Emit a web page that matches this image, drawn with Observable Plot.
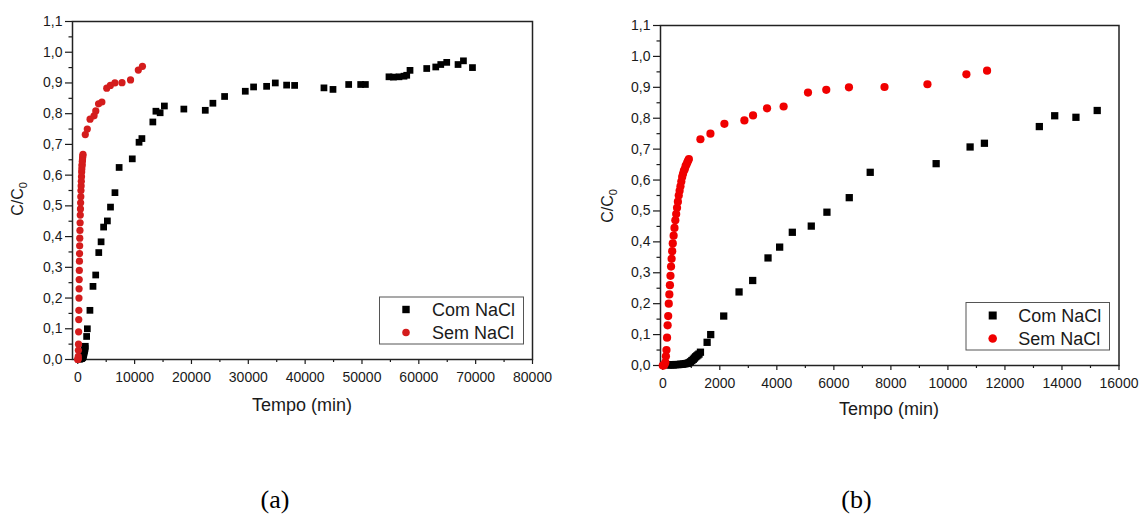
<!DOCTYPE html>
<html>
<head>
<meta charset="utf-8">
<script src="https://cdn.jsdelivr.net/npm/d3@7"></script>
<script src="https://cdn.jsdelivr.net/npm/@observablehq/plot@0.6"></script>
<style>
  html, body { margin: 0; padding: 0; background: #fff; }
  #page { position: relative; width: 1139px; height: 514px; background: #fff; overflow: hidden; }
  #page > div, #page > svg { position: absolute; top: 0; }
</style>
</head>
<body>
<div id="page"></div>
<script>
// ---------------- data ----------------
const series = ["Com NaCl", "Sem NaCl"];

const tempoCom = [200, 260, 320, 380, 440, 500, 560, 620, 680, 740, 800, 860, 920, 970, 1020, 1070, 1110, 1150, 1190, 1230, 1270,
  1321, 1555, 1681, 2137, 2675, 3153, 3691, 4099, 4543, 5208, 5757, 6540, 7275, 9587, 10778, 11280, 13206, 13745, 14490, 15236,
  18660, 22430, 23770, 25830, 29470, 30930, 33220, 34750, 36740, 38150, 43310, 44900, 47660, 49770, 50600,
  54750, 55520, 56510, 57390, 57870, 58450, 61390, 62980, 63860, 64910, 66900, 67850, 69440];
const cCom = [0.002, 0.002, 0.002, 0.002, 0.003, 0.003, 0.003, 0.004, 0.004, 0.005, 0.006, 0.007, 0.009, 0.012, 0.016, 0.020, 0.024, 0.028, 0.031, 0.034, 0.037,
  0.043, 0.075, 0.100, 0.160, 0.238, 0.275, 0.348, 0.383, 0.431, 0.451, 0.496, 0.543, 0.625, 0.653, 0.707, 0.719, 0.773, 0.808, 0.803, 0.825,
  0.815, 0.811, 0.834, 0.856, 0.873, 0.887, 0.889, 0.900, 0.893, 0.892, 0.884, 0.879, 0.895, 0.895, 0.895,
  0.920, 0.919, 0.920, 0.922, 0.925, 0.941, 0.947, 0.952, 0.960, 0.967, 0.960, 0.972, 0.950];

const tempoSem = [0, 30, 60, 90, 110, 130, 150, 170, 190, 210, 230, 250, 270, 290, 310, 330, 350, 380, 410, 440, 470, 500, 530, 560,
  590, 620, 650, 680, 710, 740, 770, 800, 830, 860, 890, 915,
  1320, 1671, 2161, 2862, 3166, 3657, 4238, 5093, 5734, 6529, 7776, 9282, 10648, 11373];
const cSem = [0, 0, 0.003, 0.010, 0.030, 0.050, 0.090, 0.130, 0.160, 0.200, 0.230, 0.260, 0.290, 0.320, 0.345, 0.370, 0.395, 0.420, 0.445, 0.470, 0.490, 0.510, 0.530, 0.550,
  0.565, 0.580, 0.595, 0.610, 0.620, 0.630, 0.635, 0.645, 0.650, 0.657, 0.663, 0.668,
  0.732, 0.750, 0.782, 0.793, 0.809, 0.832, 0.838, 0.883, 0.892, 0.900, 0.901, 0.910, 0.942, 0.954];

const yTicks = [0, 0.1, 0.2, 0.3, 0.4, 0.5, 0.6, 0.7, 0.8, 0.9, 1.0, 1.1];
const yMinorTicks = [0.05, 0.15, 0.25, 0.35, 0.45, 0.55, 0.65, 0.75, 0.85, 0.95, 1.05];
const xTicksA = [0, 10000, 20000, 30000, 40000, 50000, 60000, 70000, 80000];
const xMinorA = [5000, 15000, 25000, 35000, 45000, 55000, 65000, 75000];
const xTicksB = [0, 2000, 4000, 6000, 8000, 10000, 12000, 14000, 16000];
const xMinorB = [1000, 3000, 5000, 7000, 9000, 11000, 13000, 15000];

const xTitle = "Tempo (min)";
const captions = ["(a)", "(b)"];

const com = tempoCom.map((t, i) => ({t, v: cCom[i], s: series[0]}));
const sem = tempoSem.map((t, i) => ({t, v: cSem[i], s: series[1]}));

// ---------------- panels ----------------
const FONT = "'Liberation Sans', Arial, sans-serif";
const fmtY = d => d.toFixed(1).replace(".", ",");

function panel(o) {
  return Plot.plot({
    width: o.width, height: o.height,
    marginLeft: o.ml, marginRight: o.mr, marginTop: o.mt, marginBottom: o.mb,
    style: {fontFamily: FONT, fontSize: "14px", color: "#1a1a1a", background: "transparent", overflow: "visible"},
    x: {domain: o.xDomain, label: null},
    y: {domain: [0, 1.1], label: null},
    marks: [
      Plot.axisX(o.xTicks, {tickSize: 5, tickPadding: 7.5, tickFormat: d => String(d), strokeWidth: 1.2}),
      Plot.axisX(o.xMinor, {tickSize: 3, tickFormat: () => "", strokeWidth: 1.2}),
      Plot.axisY(yTicks, {tickSize: 7, tickPadding: 3, tickFormat: fmtY, strokeWidth: 1.2}),
      Plot.axisY(yMinorTicks, {tickSize: 3.5, tickFormat: () => "", strokeWidth: 1.2}),
      Plot.frame({stroke: "#222", strokeWidth: 1.5}),
      Plot.dot(o.com, {x: "t", y: "v", symbol: "square", fill: o.colors[0], r: o.rSq}),
      Plot.dot(o.sem, {x: "t", y: "v", symbol: "circle", fill: o.colors[1], r: o.rCi})
    ]
  });
}

const page = document.getElementById("page");

const colorsA = ["#000000", "#d41c1c"];
const colorsB = ["#000000", "#f00000"];

const pa = panel({width: 560, height: 440, ml: 72, mr: 28, mt: 21, mb: 81,
  xDomain: [-930, 80000], xTicks: xTicksA, xMinor: xMinorA, com, sem, colors: colorsA, rSq: 3.8, rCi: 3.6});
const divA = document.createElement("div"); divA.style.left = "0px"; divA.appendChild(pa); page.appendChild(divA);

const pb = panel({width: 559, height: 440, ml: 80, mr: 20.5, mt: 25, mb: 75,
  xDomain: [-80, 16000], xTicks: xTicksB, xMinor: xMinorB,
  com: com.filter(d => d.t <= 16000), sem: sem.filter(d => d.t <= 16000), colors: colorsB, rSq: 4.1, rCi: 4.1});
const divB = document.createElement("div"); divB.style.left = "580px"; divB.appendChild(pb); page.appendChild(divB);

// ---------------- overlay: titles, legends, captions ----------------
const ov = d3.select(page).append("svg")
  .attr("width", 1139).attr("height", 514)
  .style("left", "0px").style("pointer-events", "none")
  .attr("font-family", FONT).attr("fill", "#1a1a1a");

function titles(cx, baseX, yx, yy) {
  ov.append("text").attr("x", cx).attr("y", baseX).attr("text-anchor", "middle")
    .attr("font-size", 18).text(xTitle);
  const t = ov.append("text").attr("transform", `translate(${yx},${yy}) rotate(-90)`)
    .attr("text-anchor", "middle").attr("font-size", 16);
  t.append("tspan").text("C/C");
  t.append("tspan").attr("font-size", 11).attr("dy", 4).text("0");
}
titles(302, 411, 23, 199);
titles(889, 415, 613, 206);

function legend(box, mx, ys, tx, colors, sqSize, ciSize) {
  ov.append("rect").attr("x", box[0]).attr("y", box[1]).attr("width", box[2]).attr("height", box[3])
    .attr("fill", "#fff").attr("stroke", "#555").attr("stroke-width", 1);
  const syms = [d3.symbol(d3.symbolSquare, sqSize), d3.symbol(d3.symbolCircle, ciSize)];
  series.forEach((s, i) => {
    ov.append("path").attr("transform", `translate(${mx},${ys[i]})`).attr("d", syms[i]()).attr("fill", colors[i]);
    ov.append("text").attr("x", tx).attr("y", ys[i] + 6.5).attr("font-size", 18).text(s);
  });
}
legend([379.5, 297, 144, 47], 406, [309.5, 332.5], 432, colorsA, 55, 45);
legend([966, 302.5, 143.5, 47.5], 992.7, [315.5, 338.5], 1018.3, colorsB, 64, 58);

ov.append("text").attr("x", 275).attr("y", 508).attr("text-anchor", "middle")
  .attr("font-family", "'Liberation Serif', 'Times New Roman', serif").attr("font-size", 26).attr("fill", "#000").text(captions[0]);
ov.append("text").attr("x", 856.5).attr("y", 508).attr("text-anchor", "middle")
  .attr("font-family", "'Liberation Serif', 'Times New Roman', serif").attr("font-size", 26).attr("fill", "#000").text(captions[1]);
</script>
</body>
</html>
